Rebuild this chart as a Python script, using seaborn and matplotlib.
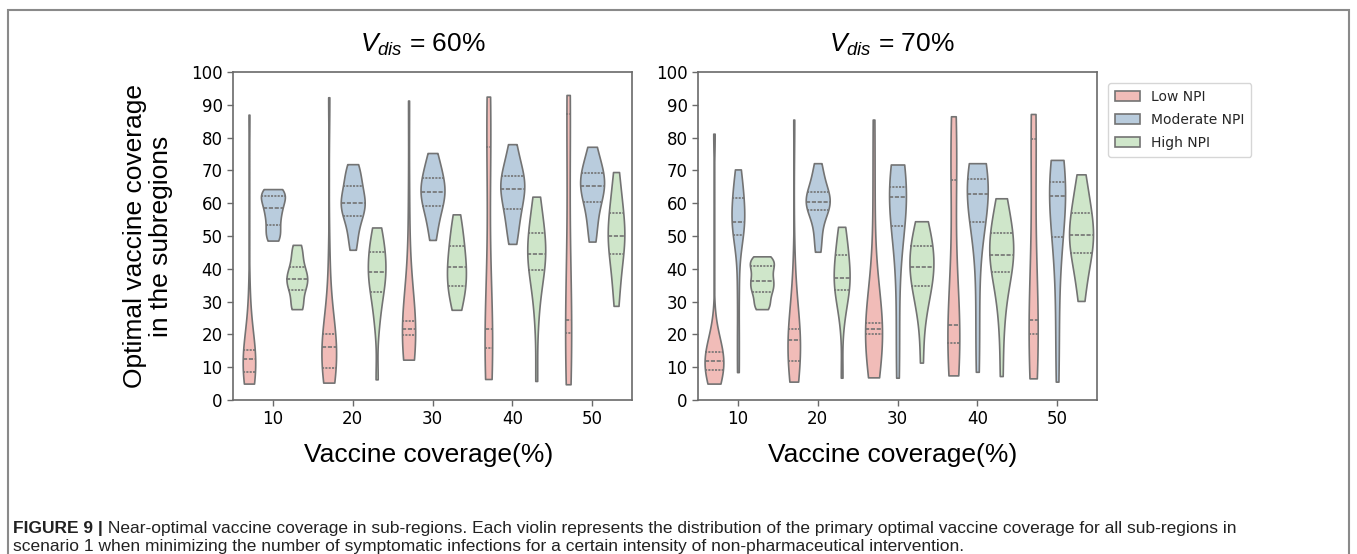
import numpy as np
import pandas as pd
import seaborn as sns
import matplotlib
matplotlib.use("Agg")
import matplotlib.pyplot as plt
from matplotlib.patches import Rectangle

# ---------------- data ----------------
coverage = ["10", "20", "30", "40", "50"]
npi_levels = ["Low NPI", "Moderate NPI", "High NPI"]
panel_titles = [r"$V_{dis}$ = 60%", r"$V_{dis}$ = 70%"]

# each inner list: 17 sorted samples (min, ..., q1 at idx 4, median idx 8, q3 idx 12, ..., max)
low_v60 = [
    [5, 5.5, 6.5, 7.5, 8.6, 9.5, 10.5, 11.5, 12.5, 13, 13.8, 14.5, 15.1, 16.5, 20, 32, 87],
    [5.3, 6, 7, 8.5, 9.9, 11.5, 13, 14.8, 16.2, 17, 18, 19, 20, 22, 27, 42, 92.3],
    [12.3, 13, 15, 17.5, 19.7, 20.2, 20.7, 21.2, 21.6, 22.2, 22.8, 23.5, 24.2, 28, 40, 60, 91.3],
    [6.4, 8, 10.5, 13.5, 16, 17.5, 19, 20.3, 21.5, 26, 38, 60, 77.2, 81, 85, 89, 92.5],
    [4.8, 8, 12, 16.5, 20.4, 21.5, 22.5, 23.5, 24.4, 30, 45, 65, 87.2, 88.5, 90, 91.5, 93],
]
mod_v60 = [
    [48.6, 49.5, 50.5, 52, 53.5, 55, 56.5, 57.5, 58.4, 59.8, 60.8, 61.5, 62.1, 63, 63.6, 64, 64.3],
    [45.8, 49, 52, 54.5, 56.2, 57.5, 58.5, 59.4, 60.2, 61.2, 62.5, 64, 65.3, 67, 69, 70.8, 71.9],
    [48.8, 52, 55, 57.5, 59.2, 60.5, 61.7, 62.6, 63.5, 64.5, 65.6, 66.7, 67.8, 69.5, 71.5, 73.5, 75.3],
    [47.6, 50, 53, 56, 58.1, 59.8, 61.5, 63, 64.4, 65.5, 66.6, 67.6, 68.4, 70, 72.5, 75.5, 78],
    [48.3, 51, 54, 57.5, 60.5, 62, 63.3, 64.3, 65.3, 66.2, 67.2, 68.2, 69.1, 70.5, 72.5, 75, 77.2],
]
high_v60 = [
    [27.7, 28, 29, 31, 33.5, 34.5, 35.3, 36, 36.8, 37.6, 38.5, 39.5, 40.5, 42.5, 44.5, 46.2, 47.3],
    [6.3, 22, 27, 30.5, 33, 35, 36.5, 37.8, 39, 40.5, 42, 43.5, 45, 47, 49, 51, 52.6],
    [27.5, 29.5, 31.5, 33.3, 34.8, 36.2, 37.6, 39, 40.4, 41.9, 43.5, 45.3, 47.1, 49.2, 51.5, 54, 56.6],
    [5.8, 24, 31, 36, 39.5, 41, 42.3, 43.4, 44.4, 45.6, 47, 49, 51, 53.5, 56, 59, 62],
    [28.7, 33, 37, 41, 44.5, 46, 47.5, 48.8, 50.1, 51.6, 53.2, 55, 56.9, 59.5, 62.5, 66, 69.5],
]
low_v70 = [
    [5, 6, 7, 8.2, 9.2, 10, 10.7, 11.3, 11.9, 12.5, 13.2, 13.9, 14.6, 15.5, 17, 21, 81.2],
    [5.6, 6.5, 8, 10, 12, 14, 15.6, 17, 18.2, 19, 19.9, 20.8, 21.7, 24, 29, 40, 85.5],
    [6.9, 10, 14, 17.5, 20.1, 20.5, 20.8, 21.2, 21.5, 22, 22.5, 23, 23.6, 30, 45, 65, 85.5],
    [7.5, 9.5, 12, 14.8, 17.5, 19, 20.5, 21.8, 22.9, 26, 33, 50, 67.1, 72, 77, 82, 86.5],
    [6.6, 9, 12.5, 16.5, 20, 21.2, 22.3, 23.4, 24.5, 30, 40, 58, 79.5, 81.5, 83.5, 85.5, 87.2],
]
mod_v70 = [
    [8.5, 20, 33, 44, 50.4, 51.5, 52.5, 53.5, 54.4, 56, 57.8, 59.7, 61.6, 63.5, 65.5, 68, 70.3],
    [45.2, 48, 51.5, 55, 58, 58.7, 59.3, 59.8, 60.3, 61, 61.8, 62.6, 63.5, 65.5, 68, 70.3, 72.2],
    [6.8, 16, 30, 44, 52.9, 55.5, 58, 60.2, 61.9, 62.6, 63.3, 64, 64.8, 66, 67.8, 70, 71.8],
    [8.6, 20, 33, 46, 54.4, 56.5, 58.6, 60.7, 62.7, 63.9, 65, 66.2, 67.3, 68.6, 69.9, 71.1, 72.2],
    [5.6, 16, 29, 41, 49.6, 53, 56.5, 59.5, 62.2, 63.3, 64.3, 65.4, 66.4, 68, 69.8, 71.5, 73.2],
]
high_v70 = [
    [27.7, 28.5, 30, 31.5, 32.8, 33.8, 34.7, 35.6, 36.4, 37.5, 38.6, 39.7, 40.8, 41.7, 42.4, 43.1, 43.8],
    [6.8, 24, 29, 31.5, 33.5, 34.6, 35.6, 36.5, 37.3, 38.8, 40.5, 42.4, 44.3, 46.5, 48.8, 51, 52.8],
    [11.4, 24, 29, 32.5, 34.8, 36.3, 37.7, 39.1, 40.5, 42, 43.6, 45.2, 46.8, 48.5, 50.5, 52.5, 54.5],
    [7.3, 22, 29, 35, 39.1, 40.4, 41.7, 43, 44.3, 45.9, 47.6, 49.3, 51, 53.5, 56, 58.8, 61.5],
    [30.2, 35, 39, 42.2, 44.9, 46.3, 47.7, 49, 50.3, 52, 53.6, 55.2, 56.9, 59.5, 62.5, 65.7, 68.8],
]

x_label = "Vaccine coverage(%)"
y_label = "Optimal vaccine coverage\nin the subregions"
caption_bold = "FIGURE 9 |"
caption_1 = (" Near-optimal vaccine coverage in sub-regions. Each violin represents the distribution "
             "of the primary optimal vaccine coverage for all sub-regions in")
caption_2 = ("scenario 1 when minimizing the number of symptomatic infections for a certain "
             "intensity of non-pharmaceutical intervention.")


def long_frame(low, mod, high):
    rows = []
    for name, series in zip(npi_levels, [low, mod, high]):
        for cov, vals in zip(coverage, series):
            for v in vals:
                rows.append({"cov": cov, "npi": name, "val": v})
    return pd.DataFrame(rows)


frames = [long_frame(low_v60, mod_v60, high_v60), long_frame(low_v70, mod_v70, high_v70)]

# ---------------- figure ----------------
sns.set_style("ticks")
plt.rcParams["font.family"] = ["DejaVu Sans"]
plt.rcParams["mathtext.fontset"] = "custom"
plt.rcParams["mathtext.it"] = "Liberation Sans:italic"
plt.rcParams["mathtext.rm"] = "Liberation Sans"

W, H = 1357, 554
fig = plt.figure(figsize=(W / 100, H / 100), dpi=100)

ax_boxes = [(233, 72, 632, 400), (698, 72, 1097, 400)]
title_cx = [423, 892]
xlabel_cx = [429, 893]
# kernel smoothing per coverage level (style setting)
bw_per_group = [[0.8, 0.85, 1.1, 1.0, 1.1], [0.65, 1.0, 1.15, 1.05, 1.15]]
spine_col = "#6a6a6a"
edge_col = "#737373"
big_font = dict(family="Liberation Sans", size=19, color="black")

axes = []
handles, labels = None, None
for i, (df, (x0, y0, x1, y1)) in enumerate(zip(frames, ax_boxes)):
    ax = fig.add_axes([x0 / W, 1 - y1 / H, (x1 - x0) / W, (y1 - y0) / H])
    # width scaling computed within each coverage level (like the old scale_hue=True)
    for j, cov in enumerate(coverage):
        sub = df[df["cov"] == cov]
        sns.violinplot(data=sub, x="cov", y="val", hue="npi", order=coverage,
                       hue_order=npi_levels, palette="Pastel1", inner="quart", cut=0,
                       bw_adjust=bw_per_group[i][j], width=0.9, density_norm="area",
                       common_norm=True, linewidth=1.2, linecolor=edge_col, ax=ax)
        if handles is None:
            handles, labels = ax.get_legend_handles_labels()
        if ax.get_legend() is not None:
            ax.get_legend().remove()
    ax.set_ylim(0, 100)
    ax.set_xlim(-0.5, 4.5)
    ax.set_yticks(np.arange(0, 101, 10))
    ax.set_xlabel("")
    ax.set_ylabel("")
    ax.tick_params(labelsize=12, length=4, width=1, color=spine_col, labelcolor="black")
    for s in ax.spines.values():
        s.set_color(spine_col)
        s.set_linewidth(1.2)
    fig.text(title_cx[i] / W, 1 - 52 / H, panel_titles[i], ha="center", va="baseline", **big_font)
    fig.text(xlabel_cx[i] / W, 1 - 455 / H, x_label, ha="center", va="center", **big_font)
    axes.append(ax)

fig.text(148 / W, 1 - 236 / H, y_label, rotation=90, ha="center", va="center",
         multialignment="center", linespacing=1.1, **big_font)

leg = fig.legend(handles, labels, loc="upper left", bbox_to_anchor=(1108 / W, 1 - 83 / H),
                 bbox_transform=fig.transFigure, borderaxespad=0, fontsize=10, frameon=True,
                 handlelength=1.8, handleheight=0.75, labelspacing=0.65,
                 borderpad=0.5, handletextpad=0.8, fancybox=True)
leg.get_frame().set_edgecolor("#cccccc")
leg.get_frame().set_linewidth(1.0)

# outer frame
fig.add_artist(Rectangle((8 / W, -0.05), (1349 - 8) / W, (1 - 10 / H) + 0.05,
                         transform=fig.transFigure, fill=False, edgecolor="#8a8a8a", lw=1.5))

# caption
cap_font = dict(family="Liberation Sans", size=12.5, color="#222222")
t_bold = fig.text(13 / W, 1 - 528 / H, caption_bold, ha="left", va="center", weight="bold", **cap_font)
fig.text(13 / W, 1 - 546 / H, caption_2, ha="left", va="center", **cap_font)
fig.canvas.draw()
bb = t_bold.get_window_extent()
fig.text(bb.x1 / W, 1 - 528 / H, caption_1, ha="left", va="center", **cap_font)

fig.savefig("out.png", dpi=100)
